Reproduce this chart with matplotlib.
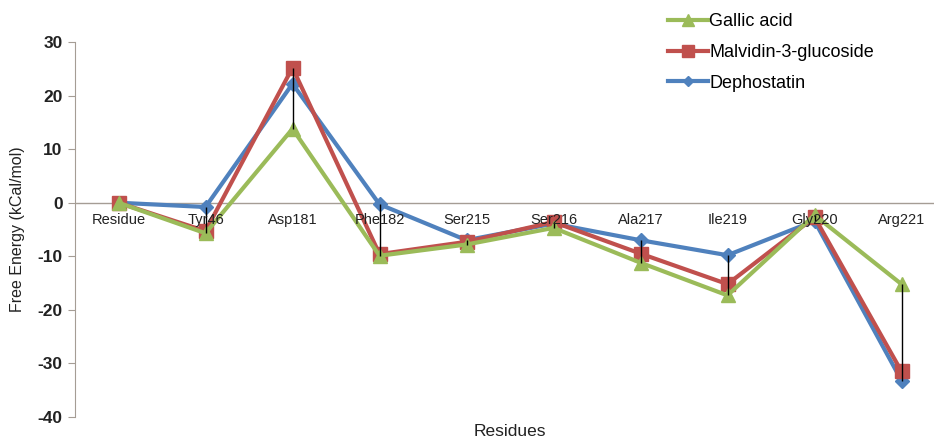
import matplotlib.pyplot as plt

plt.rcParams["font.family"] = ["Liberation Sans", "DejaVu Sans"]

residues = ["Residue", "Tyr46", "Asp181", "Phe182", "Ser215", "Ser216",
            "Ala217", "Ile219", "Gly220", "Arg221"]

gallic = [0, -5.7, 13.8, -9.9, -7.8, -4.7, -11.2, -17.3, -2.3, -15.2]
malvidin = [0, -5.3, 25.2, -9.6, -7.3, -3.6, -9.5, -15.2, -2.7, -31.5]
dephostatin = [0, -0.8, 22.2, -0.3, -7.0, -3.9, -7.0, -9.8, -3.4, -33.2]

x = list(range(len(residues)))

fig = plt.figure(figsize=(9.34, 4.41), dpi=100)
ax = fig.add_axes([75 / 934, 24 / 441, 870 / 934, 375 / 441])

# draw back to front: blue, red, green
ax.plot(x, dephostatin, color="#4F81BD", lw=3, marker="D", ms=7,
        label="Dephostatin", zorder=3)
ax.plot(x, malvidin, color="#C0504D", lw=3, marker="s", ms=10,
        label="Malvidin-3-glucoside", zorder=4)
ax.plot(x, gallic, color="#9BBB59", lw=3, marker="^", ms=10,
        label="Gallic acid", zorder=5)

# high-low lines
lows = [min(a, b, c) for a, b, c in zip(gallic, malvidin, dephostatin)]
highs = [max(a, b, c) for a, b, c in zip(gallic, malvidin, dephostatin)]
ax.vlines(x, lows, highs, color="black", lw=1, zorder=6)

ax.set_xlim(-0.5, 9.5)
ax.set_ylim(-40, 30)
ax.set_yticks(range(-40, 31, 10))
ax.set_yticklabels([str(v) for v in range(-40, 31, 10)],
                   fontsize=12.5, fontweight="bold", color="#222222")

for s in ["top", "right", "bottom"]:
    ax.spines[s].set_visible(False)
ax.spines["left"].set_color("#a59d95")
ax.tick_params(axis="y", color="#a59d95", length=5, pad=4)
ax.axhline(0, color="#a59d95", lw=1, zorder=1)

ax.set_xticks([])
for i, name in enumerate(residues):
    ax.text(i, -1.9, name, ha="center", va="top", fontsize=10.5,
            color="#222222", zorder=7)

ax.set_ylabel("Free Energy (kCal/mol)", fontsize=11.5, color="#222222",
              labelpad=9)
fig.text(510 / 934, 1 - 432 / 441, "Residues", ha="center", va="center",
         fontsize=12.5, color="#222222")

handles, labels = ax.get_legend_handles_labels()
ax.legend(handles[::-1], labels[::-1], loc="upper left",
          bbox_to_anchor=(658 / 934, 1 - 3 / 441),
          bbox_transform=fig.transFigure,
          frameon=False, fontsize=13, handlelength=2.2, handletextpad=0.1,
          labelspacing=0.77, borderaxespad=0.15, markerscale=0.8)

fig.savefig("out.png", dpi=100)
